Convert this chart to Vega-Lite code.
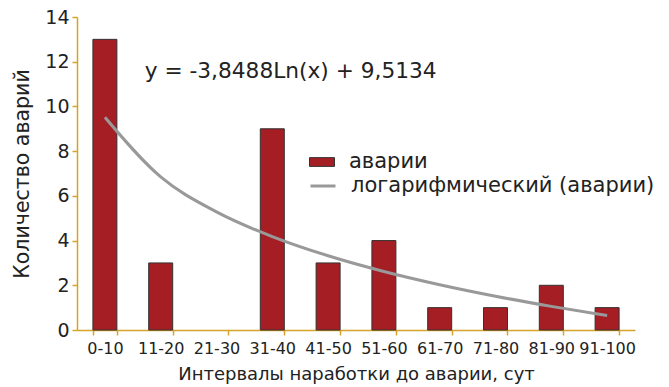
{
  "$schema": "https://vega.github.io/schema/vega-lite/v6.json",
  "autosize": "none",
  "width": 558,
  "height": 313,
  "padding": {"left": 77, "top": 17, "right": 34, "bottom": 57},
  "background": "white",
  "config": {
    "view": {"stroke": null},
    "font": "DejaVu Sans",
    "axis": {"grid": false, "domainColor": "#D4A42A", "tickColor": "#D4A42A", "domainWidth": 1.5, "tickWidth": 1.5, "labelColor": "#222", "titleColor": "#222", "labelFont": "DejaVu Sans", "titleFont": "DejaVu Sans", "titleFontWeight": "normal"}
  },
  "datasets": {
    "bars": [
      {"interval": "0-10", "count": 13},
      {"interval": "11-20", "count": 3},
      {"interval": "21-30", "count": 0},
      {"interval": "31-40", "count": 9},
      {"interval": "41-50", "count": 3},
      {"interval": "51-60", "count": 4},
      {"interval": "61-70", "count": 1},
      {"interval": "71-80", "count": 1},
      {"interval": "81-90", "count": 2},
      {"interval": "91-100", "count": 1}
    ],
    "trend": [
      {"interval": "0-10", "fit": 9.513},
      {"interval": "11-20", "fit": 6.846},
      {"interval": "21-30", "fit": 5.285},
      {"interval": "31-40", "fit": 4.178},
      {"interval": "41-50", "fit": 3.319},
      {"interval": "51-60", "fit": 2.617},
      {"interval": "61-70", "fit": 2.024},
      {"interval": "71-80", "fit": 1.510},
      {"interval": "81-90", "fit": 1.057},
      {"interval": "91-100", "fit": 0.651}
    ]
  },
  "encoding": {
    "x": {
      "field": "interval", "type": "nominal", "sort": null,
      "scale": {"domain": ["0-10","11-20","21-30","31-40","41-50","51-60","61-70","71-80","81-90","91-100"], "paddingInner": 0.57, "paddingOuter": 0.285},
      "axis": {"title": "Интервалы наработки до аварии, сут", "labelAngle": 0, "tickBand": "extent", "labelFontSize": 16, "titleFontSize": 18, "tickSize": 5, "labelPadding": 5, "titlePadding": 9}
    }
  },
  "layer": [
    {
      "data": {"name": "bars"},
      "transform": [{"filter": "datum.count > 0"}],
      "mark": {"type": "bar", "stroke": "#333333", "strokeWidth": 1},
      "encoding": {
        "y": {"field": "count", "type": "quantitative", "scale": {"domain": [0, 14]},
          "axis": {"title": "Количество аварий", "values": [0,2,4,6,8,10,12,14], "labelFontSize": 19, "titleFontSize": 20.5, "tickSize": 5, "labelPadding": 3, "titlePadding": 12}},
        "fill": {"datum": "аварии", "type": "nominal", "scale": {"range": ["#A51E24"]},
          "legend": {"orient": "none", "legendX": 232, "legendY": 132, "title": null, "symbolType": "M-1,-0.35L1,-0.35L1,0.35L-1,0.35Z", "symbolSize": 625, "symbolStrokeColor": "#333", "symbolStrokeWidth": 1, "labelFontSize": 21, "labelFont": "DejaVu Sans", "labelColor": "#222", "labelOffset": 14, "labelLimit": 400}}
      }
    },
    {
      "data": {"name": "trend"},
      "mark": {"type": "line", "interpolate": "monotone", "strokeWidth": 3},
      "encoding": {
        "y": {"field": "fit", "type": "quantitative"},
        "stroke": {"datum": "логарифмический (аварии)", "type": "nominal", "scale": {"range": ["#999999"]},
          "legend": {"orient": "none", "legendX": 232, "legendY": 155, "title": null, "symbolType": "stroke", "symbolSize": 625, "symbolStrokeWidth": 3, "labelFontSize": 21, "labelFont": "DejaVu Sans", "labelColor": "#222", "labelOffset": 14, "labelLimit": 400}}
      }
    },
    {
      "data": {"values": [{"label": "y = -3,8488Ln(x) + 9,5134"}]},
      "mark": {"type": "text", "align": "left", "baseline": "middle", "fontSize": 21.7, "font": "DejaVu Sans", "color": "#222", "dx": -16},
      "encoding": {
        "x": {"datum": "11-20"},
        "y": {"datum": 11.6},
        "text": {"field": "label"}
      }
    }
  ],
  "resolve": {"scale": {"fill": "independent", "stroke": "independent"}}
}
